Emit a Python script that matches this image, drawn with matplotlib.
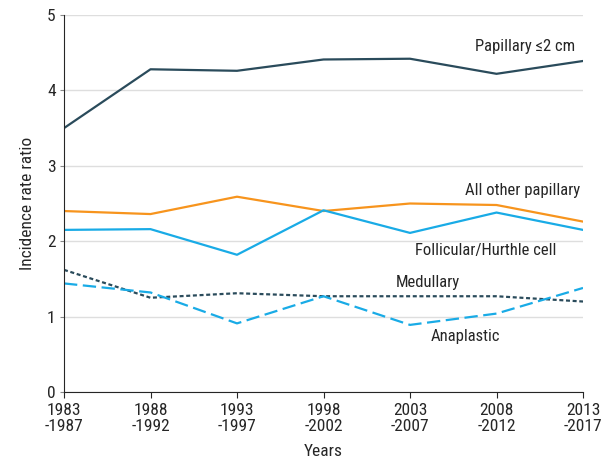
import matplotlib
matplotlib.use('Agg')
import matplotlib.pyplot as plt

plt.rcParams['font.family'] = ['Roboto Condensed', 'DejaVu Sans']

periods = ['1983\n-1987', '1988\n-1992', '1993\n-1997', '1998\n-2002',
           '2003\n-2007', '2008\n-2012', '2013\n-2017']
papillary_small = [3.50, 4.28, 4.26, 4.41, 4.42, 4.22, 4.39]
other_papillary = [2.40, 2.36, 2.59, 2.40, 2.50, 2.48, 2.26]
follicular = [2.15, 2.16, 1.82, 2.41, 2.11, 2.38, 2.15]
medullary = [1.62, 1.25, 1.31, 1.27, 1.27, 1.27, 1.20]
anaplastic = [1.44, 1.32, 0.91, 1.27, 0.89, 1.04, 1.38]

dark = '#2a4b5b'
orange = '#f7941d'
blue = '#19abe6'
txtc = '#262626'

fig = plt.figure(figsize=(6.16, 4.59), dpi=100)
ax = fig.add_axes([64 / 616, 1 - 392 / 459, (583 - 64) / 616, (392 - 15) / 459])

x = list(range(len(periods)))
ax.plot(x, papillary_small, color=dark, lw=1.6)
ax.plot(x, other_papillary, color=orange, lw=1.6)
ax.plot(x, follicular, color=blue, lw=1.6)
ax.plot(x, medullary, color=dark, lw=1.6, linestyle=(0, (1.8, 1.2)))
ax.plot(x, anaplastic, color=blue, lw=1.6, linestyle=(0, (6, 2.5)))

# series labels
fs = 12
ax.text(5.33, 4.58, 'Papillary ≤2 cm', ha='center', va='center', fontsize=fs, color=txtc)
ax.text(5.30, 2.67, 'All other papillary', ha='center', va='center', fontsize=fs, color=txtc)
ax.text(4.87, 1.88, 'Follicular/Hurthle cell', ha='center', va='center', fontsize=fs, color=txtc)
ax.text(4.21, 1.45, 'Medullary', ha='center', va='center', fontsize=fs, color=txtc)
ax.text(4.64, 0.74, 'Anaplastic', ha='center', va='center', fontsize=fs, color=txtc)

ax.set_xlim(0, 6)
ax.set_ylim(0, 5)
ax.set_xticks(x)
ax.set_xticklabels(periods, fontsize=12.5, color=txtc, linespacing=1.05)
ax.set_yticks(range(6))
ax.set_yticklabels([str(v) for v in range(6)], fontsize=12.5, color=txtc)
ax.yaxis.grid(True, color='#dedede', lw=1)
ax.set_axisbelow(True)
for s in ['top', 'right']:
    ax.spines[s].set_visible(False)
ax.spines['left'].set_color(txtc)
ax.spines['bottom'].set_color(txtc)
ax.tick_params(axis='y', length=3, color='#888888', pad=3)
ax.tick_params(axis='x', length=4, color=txtc, pad=4)
ax.set_xlabel('Years', fontsize=12.5, color=txtc)
ax.set_ylabel('Incidence rate ratio', fontsize=12.5, color=txtc)
ax.xaxis.set_label_coords(0.5, -0.137)
ax.yaxis.set_label_coords(-0.056, 0.5)

fig.savefig('out.png', dpi=100)
